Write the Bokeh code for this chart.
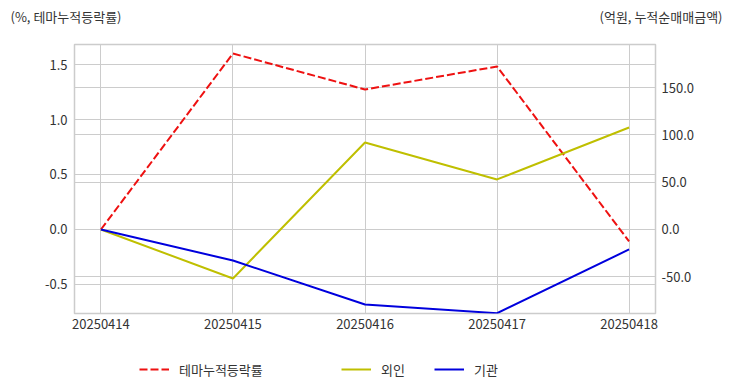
from bokeh.plotting import figure
from bokeh.layouts import column, row
from bokeh.models import (Range1d, LinearAxis, FixedTicker, Grid, Legend, LegendItem,
                          Label, NumeralTickFormatter)
from bokeh.embed import file_html
from bokeh.resources import INLINE

dates = ["20250414", "20250415", "20250416", "20250417", "20250418"]
theme_rate = [0.0, 1.60, 1.273, 1.482, -0.109]
foreign = [0.0, -51.8, 92.0, 52.9, 107.8]
institution = [0.0, -32.8, -79.3, -88.5, -21.1]
left_ticks = [-0.5, 0.0, 0.5, 1.0, 1.5]
right_ticks = [-50, 0, 50, 100, 150]
series_names = ["테마누적등락률", "외인", "기관"]
left_title = "(%, 테마누적등락률)"
right_title = "(억원, 누적순매매금액)"

FONT = "Noto Sans CJK KR"
TXT = "#333333"
GRID = "#cccccc"
RED, YEL, BLUE = "#ee1111", "#bfbf00", "#0000dd"
W = 728
BL, BR = 74, 73   # frame borders of the chart and legend strip

xs = list(range(len(dates)))

def strip(w, h, bl=0, br=0):
    f = figure(width=w, height=h, output_backend="svg", toolbar_location=None,
               x_axis_type=None, y_axis_type=None,
               x_range=Range1d(100, 101), y_range=Range1d(100, 101),
               min_border_left=bl, min_border_right=br, min_border_top=0, min_border_bottom=0)
    f.outline_line_color = None
    f.grid.visible = False
    return f

# ---------- top: two half strips, one unit title each ----------
HW = W // 2
ta = strip(HW, 40)
ta.add_layout(Label(x=10, y=24, x_units="screen", y_units="screen", text=left_title,
                    text_font=FONT, text_font_size="13px", text_color=TXT,
                    text_baseline="middle"))
tb = strip(W - HW, 40)
tb.add_layout(Label(x=722 - HW, y=24, x_units="screen", y_units="screen", text=right_title,
                    text_font=FONT, text_font_size="13px", text_color=TXT,
                    text_baseline="middle", text_align="right"))

# ---------- main chart ----------
p = figure(width=W, height=303, output_backend="svg", toolbar_location=None,
           x_range=Range1d(-0.2, 4.2), y_range=Range1d(-0.764, 1.682),
           min_border_left=BL, min_border_right=BR, min_border_top=4, min_border_bottom=30)
p.extra_y_ranges = {"right": Range1d(-88.8, 195.5)}
p.outline_line_color = GRID
p.outline_line_width = 1.5

p.xaxis.ticker = FixedTicker(ticks=xs)
p.xaxis.major_label_overrides = {i: d for i, d in enumerate(dates)}
p.yaxis.ticker = FixedTicker(ticks=left_ticks)
p.yaxis.formatter = NumeralTickFormatter(format="0.0")

raxis = LinearAxis(y_range_name="right", ticker=FixedTicker(ticks=right_ticks),
                   formatter=NumeralTickFormatter(format="0.0"))
p.add_layout(raxis, "right")

for ax, so in [(p.xaxis[0], 5), (p.yaxis[0], 7), (raxis, 6)]:
    ax.axis_line_color = None
    ax.major_tick_line_color = None
    ax.minor_tick_line_color = None
    ax.major_tick_out = 0
    ax.major_tick_in = 0
    ax.minor_tick_out = 0
    ax.major_label_text_font = FONT
    ax.major_label_text_font_size = "13px"
    ax.major_label_text_color = TXT
    ax.major_label_standoff = so

p.xgrid.grid_line_color = GRID
p.ygrid.grid_line_color = GRID
p.add_layout(Grid(dimension=1, ticker=raxis.ticker, y_range_name="right", grid_line_color=GRID))

p.line(xs, theme_rate, line_color=RED, line_width=2, line_dash="8 3")
p.line(xs, foreign, line_color=YEL, line_width=2, y_range_name="right")
p.line(xs, institution, line_color=BLUE, line_width=2, y_range_name="right")

# ---------- bottom strip with the legend (series drawn out of view, only keys show) ----------
bot = strip(W, 45, BL, BR)
k_theme = bot.line(xs, theme_rate, line_color=RED, line_width=2, line_dash="8 3")
k_for = bot.line(xs, foreign, line_color=YEL, line_width=2)
k_ins = bot.line(xs, institution, line_color=BLUE, line_width=2)

def mk_legend(items, loc):
    return Legend(items=items, location=loc, orientation="horizontal",
                  label_text_font=FONT, label_text_font_size="13px", label_text_color=TXT,
                  glyph_width=30, label_standoff=10, spacing=29, padding=0, margin=0,
                  border_line_color=None, background_fill_alpha=0)

bot.add_layout(mk_legend([LegendItem(label=series_names[0], renderers=[k_theme])], (139 - BL, 9)))
bot.add_layout(mk_legend([LegendItem(label=series_names[1], renderers=[k_for]),
                          LegendItem(label=series_names[2], renderers=[k_ins])], (341 - BL, 9)))

layout = column(row(ta, tb, spacing=0), p, bot, spacing=0)
open("out.html", "w").write(file_html(layout, INLINE))
